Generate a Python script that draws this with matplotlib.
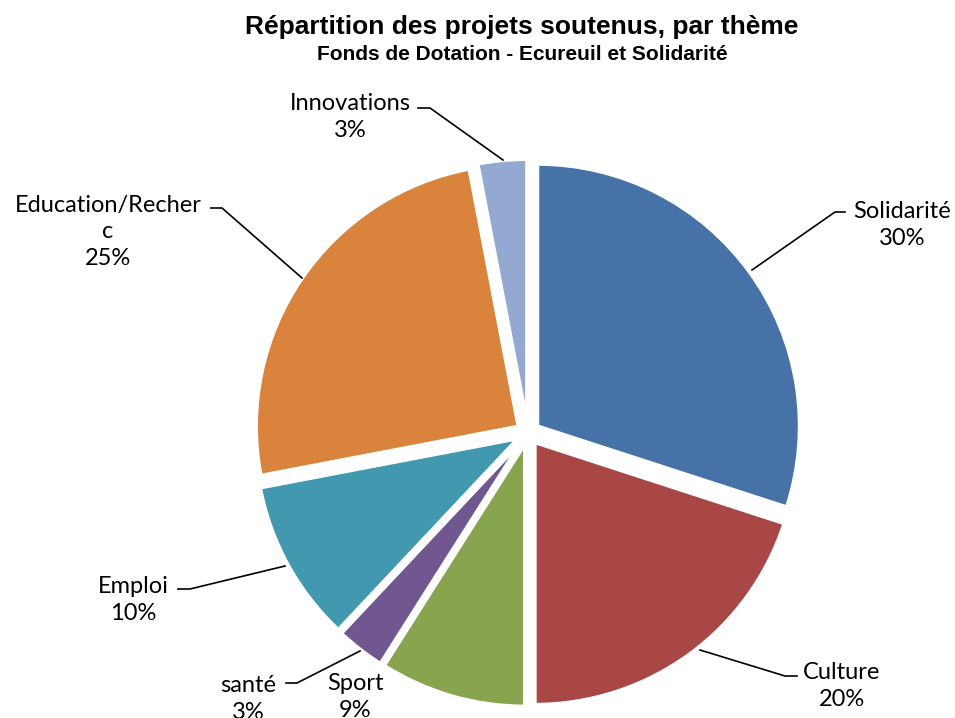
import matplotlib
matplotlib.use("Agg")
import matplotlib.pyplot as plt

# Share of supported projects by theme (percent)
themes = ["Solidarité", "Culture", "Sport", "santé", "Emploi",
          "Education/Recher\nc", "Innovations"]
shares = [30, 20, 9, 3, 10, 25, 3]
colors = ["#4672A8", "#A84745", "#88A44F", "#715790", "#4299AF",
          "#DA833D", "#94A9D1"]

W, H = 955, 718
fig = plt.figure(figsize=(W / 100, H / 100), dpi=100)
ax = fig.add_axes([0, 0, 1, 1])

# pixel geometry of the pie
cx, cy, R = 528, 433, 262

wedges, _ = ax.pie(shares, colors=colors, startangle=90, counterclock=False,
                   explode=[0.045] * len(shares), radius=1.0,
                   wedgeprops=dict(edgecolor="white", linewidth=2.5))

ax.set_aspect("auto")
ax.set_xlim(-cx / R, (W - cx) / R)
ax.set_ylim(-(H - cy) / R, cy / R)
ax.axis("off")


def px(x, y):
    return ((x - cx) / R, (cy - y) / R)


label_font = dict(family="Lato", fontsize=17, color="black")

# label text anchor (pixels) and leader line points (pixels)
placements = [
    ((902, 225), [(752, 270), (835, 212), (845, 212)]),
    ((842, 686), [(700, 650), (785, 676), (797, 676)]),
    ((355, 697), None),
    ((248, 699), [(360, 651), (297, 683), (286, 683)]),
    ((133, 600), [(285, 566), (190, 589), (178, 589)]),
    ((108, 232), [(302, 278), (222, 208), (211, 208)]),
    ((350, 117), [(503, 160), (430, 108), (418, 108)]),
]

for name, val, (txt, line) in zip(themes, shares, placements):
    ax.text(*px(*txt), f"{name}\n{val}%", ha="center", va="center",
            linespacing=1.35, **label_font)
    if line:
        xs, ys = zip(*[px(*p) for p in line])
        ax.plot(xs, ys, color="black", linewidth=1.2)

fig.text(522 / W, 1 - 27 / H, "Répartition des projets soutenus, par thème",
         ha="center", va="center", fontsize=19, fontweight="bold",
         family="Liberation Sans")
fig.text(522 / W, 1 - 55 / H, "Fonds de Dotation - Ecureuil et Solidarité",
         ha="center", va="center", fontsize=15, fontweight="bold",
         family="Liberation Sans")

fig.savefig("out.png", dpi=100)
